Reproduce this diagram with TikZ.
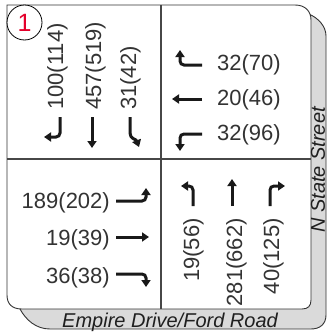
\documentclass[tikz,border=0pt]{standalone}
\usepackage{fontspec}
\setmainfont{Liberation Sans}
\usetikzlibrary{arrows.meta}
\definecolor{bandgrey}{RGB}{218,218,218}
\definecolor{numred}{RGB}{228,0,43}
\begin{document}
\begin{tikzpicture}[x=1pt,y=-1pt,
  num/.style={inner sep=0pt, text=black!80, font=\fontsize{22}{24}\selectfont},
  mv/.style={line width=3pt, black!90, rounded corners=4pt, -{Triangle[length=7pt,width=9pt]}},
  street/.style={inner sep=0pt, text=black!88, font=\fontsize{20}{22}\selectfont\itshape},
  frame/.style={black!80, line width=0.9pt},
  divider/.style={black!72, line width=2pt}]
\useasboundingbox (0,0) rectangle (328,335);

% grey extrusion behind the panel
\fill[bandgrey] (309,14) .. controls (318,18) and (326,26) .. (326,36)
  -- (326,315) .. controls (326,324) and (320,329) .. (311,329)
  -- (50,329) .. controls (36,329) and (26,320) .. (20,309)
  -- (20,300) -- (300,300) -- (300,20) -- cycle;
\draw[frame] (309,14) .. controls (318,18) and (326,26) .. (326,36)
  -- (326,315) .. controls (326,324) and (320,329) .. (311,329)
  -- (50,329) .. controls (36,329) and (26,320) .. (20,309);

% white panel
\draw[frame, fill=white] (7,5) -- (295,5) .. controls (305,5) and (311,11) .. (311,20)
  -- (311,300) .. controls (311,306) and (308,309) .. (302,309)
  -- (22,309) .. controls (12,309) and (7,304) .. (7,295) -- cycle;

% intersection cross
\coordinate (vt) at (161,5);
\coordinate (vb) at (161,309);
\coordinate (hl) at (7,159);
\coordinate (hr) at (311,159);
\draw[divider] (vt) -- (vb);
\draw[divider] (hl) -- (hr);

% southbound movements
\draw[mv] (60,117) -- (60,137) -- (44,137);
\draw[mv] (92,117) -- (92,148);
\draw[mv, rounded corners=0pt] (130,117) -- (130,133) .. controls (130,139) and (136,139) .. (139,147);
\node[num, rotate=90, anchor=base west] (sbr) at (63,110) {100(114)};
\node[num, rotate=90, anchor=base west] (sbt) at (101,110) {457(519)};
\node[num, rotate=90, anchor=base west] (sbl) at (136,110) {31(42)};

% westbound movements
\draw[mv] (202,65) -- (180,65) -- (180,50);
\draw[mv] (202,99) -- (172,99);
\draw[mv] (202,134) -- (180,134) -- (180,151);
\node[num, anchor=base west] (wbr) at (217,70) {32(70)};
\node[num, anchor=base west] (wbt) at (217,105) {20(46)};
\node[num, anchor=base west] (wbl) at (217,140) {32(96)};

% eastbound movements
\draw[mv] (116,201) -- (146,201) -- (146,188);
\draw[mv] (116,237) -- (149,237);
\draw[mv] (116,274) -- (146,274) -- (146,287);
\node[num, anchor=base east] (ebl) at (110,208) {189(202)};
\node[num, anchor=base east] (ebt) at (110,245) {19(39)};
\node[num, anchor=base east] (ebr) at (110,283) {36(38)};

% northbound movements
\draw[mv] (193,206) -- (193,186) -- (181,186);
\draw[mv] (232,206) -- (232,179);
\draw[mv] (270,206) -- (270,186) -- (285,186);
\node[num, rotate=90, anchor=base east] (nbl) at (199,218) {19(56)};
\node[num, rotate=90, anchor=base east] (nbt) at (242,218) {281(662)};
\node[num, rotate=90, anchor=base east] (nbr) at (279,218) {40(125)};

% street names
\node[street, rotate=90] (ns) at (318,170) {N State Street};
\node[street, anchor=base west] (ew) at (62,327) {Empire Drive/Ford Road};

% intersection number
\node[circle, draw=black, fill=white, line width=0.8pt, minimum size=35pt, inner sep=0pt,
  text=numred, font=\fontsize{25}{26}\selectfont] (id) at (24.5,22.5) {1};
\end{tikzpicture}
\end{document}
